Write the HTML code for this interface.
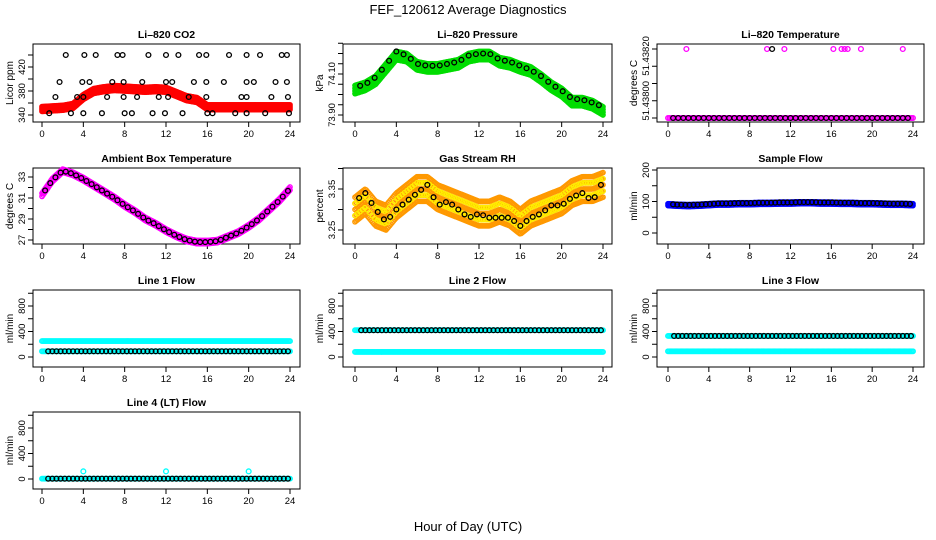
<!DOCTYPE html>
<html><head><meta charset="utf-8"><style>
body{margin:0;background:#fff}
svg{display:block;font-family:"Liberation Sans",sans-serif}
</style></head><body>
<svg id="c" width="936" height="540" xmlns="http://www.w3.org/2000/svg">
<text x="468" y="14" text-anchor="middle" font-size="13">FEF_120612  Average Diagnostics</text>
<text x="468" y="531" text-anchor="middle" font-size="13">Hour of Day (UTC)</text>
</svg>
<script>
// ---- data ----
const hours = [0,1,2,3,4,5,6,7,8,9,10,11,12,13,14,15,16,17,18,19,20,21,22,23,24];
const co2Red = [350,351,352,355,370,380,383,385,384,383,382,383,382,375,368,365,353,353,353,353,353,353,353,353,353];
const co2BlackHours = [2.3,4.1,5.2,7.3,7.8,10.3,12.0,13.2,15.2,15.9,18.1,19.8,21.1,23.2,23.7,1.7,3.9,4.6,6.8,7.9,9.7,12.0,12.6,14.7,15.9,17.6,19.8,20.5,22.6,23.7,1.3,3.4,4.0,6.3,7.9,9.2,11.3,12.2,14.2,15.9,19.3,19.8,22.2,23.8,0.7,2.8,4.0,5.8,8.0,8.7,10.7,11.9,13.6,16.0,16.5,18.7,19.8,21.6,23.9];
const co2BlackVals = [440,440,440,440,440,440,440,440,440,440,440,440,440,440,440,395,395,395,395,395,395,395,395,395,395,395,395,395,395,395,370,370,370,370,370,370,370,370,370,370,370,370,370,370,343,343,343,343,343,343,343,343,343,343,343,343,343,343,343];
const pressGreen = [74.024,74.04,74.07,74.13,74.19,74.18,74.14,74.13,74.13,74.14,74.15,74.18,74.19,74.19,74.16,74.15,74.13,74.115,74.08,74.04,74.01,73.965,73.965,73.95,73.92];
const pressBlack = [74.035,74.05,74.085,74.145,74.21,74.19,74.15,74.14,74.14,74.15,74.16,74.19,74.2,74.2,74.17,74.16,74.14,74.12,74.09,74.05,74.02,73.98,73.975,73.96,73.94];
const tempTopHours = [1.8,9.7,11.4,16.2,17.0,17.3,17.6,18.9,23.0];
const tempBase = 51.438;
const tempTop = 51.4382;
const ambTemp = [31.3,32.7,33.6,33.3,32.8,32.2,31.6,31.0,30.3,29.7,29.0,28.5,27.9,27.4,27.0,26.8,26.8,26.9,27.3,27.7,28.3,29.0,29.9,30.8,31.9];
const rhOrange = [3.30,3.32,3.29,3.28,3.31,3.33,3.35,3.35,3.33,3.32,3.31,3.30,3.29,3.29,3.30,3.29,3.27,3.29,3.30,3.31,3.32,3.34,3.35,3.35,3.36];
const rhBlack = [3.32,3.34,3.30,3.27,3.30,3.32,3.34,3.36,3.31,3.32,3.30,3.28,3.29,3.28,3.28,3.28,3.26,3.28,3.29,3.31,3.31,3.33,3.34,3.32,3.37];
const sampleBlue = [90,88,87,88,90,92,92,93,93,94,94,95,95,96,96,95,95,94,94,93,93,92,91,91,90];
const line1Hi = 250, line1Lo = 90, line1Black = 90;
const line2Hi = 420, line2Lo = 80, line2Black = 420;
const line3Hi = 330, line3Lo = 90, line3Black = 330;
const line4Base = 5, line4SpikeHours = [4,12,20], line4Spike = 120;

// ---- helpers ----
const svg = document.getElementById('c');
const NS = 'http://www.w3.org/2000/svg';
function mk(tag, at, parent){const e=document.createElementNS(NS,tag);for(const k in at)e.setAttribute(k,at[k]);(parent||svg).appendChild(e);return e;}
const cols=[{b0:33,b1:300,p0:42,p1:290},{b0:343,b1:612,p0:355,p1:603},{b0:657,b1:924,p0:668,p1:913}];
const rows=[{t:44,b:122},{t:168,b:244},{t:290,b:367},{t:412,b:489}];
function panel(name,title,ylab,c,r,v1,py1,v2,py2,ticks,labels,fmt){
  const col=cols[c],row=rows[r];
  const g=mk('g',{});
  
  
  const X=h=>col.p0+(col.p1-col.p0)*h/24;
  const Y=v=>py1+(v-v1)*(py2-py1)/(v2-v1);
  const bx=mk('rect',{x:col.b0,y:row.t,width:col.b1-col.b0,height:row.b-row.t,fill:'none',stroke:'#000','stroke-width':1},g);
  
  
  const tt=mk('text',{x:(col.b0+col.b1)/2,y:row.t-6,'text-anchor':'middle','font-size':10.5,'font-weight':'bold'},g);
  tt.textContent=title;
  
  
  const yl=mk('text',{transform:`translate(${col.b0-20},${(row.t+row.b)/2}) rotate(-90)`,'text-anchor':'middle','font-size':10},g);
  yl.textContent=ylab;
  
  
  mk('line',{x1:col.p0,x2:col.p1,y1:row.b,y2:row.b,stroke:'#000'},g);
  [0,4,8,12,16,20,24].forEach(h=>{
    mk('line',{x1:X(h),x2:X(h),y1:row.b,y2:row.b+5,stroke:'#000'},g);
    const t=mk('text',{x:X(h),y:row.b+15,'text-anchor':'middle','font-size':9.5},g);
    t.textContent=h;
    
    
  });
  ticks.forEach(v=>{const y=Y(v);if(y<row.t-1||y>row.b+1)return;mk('line',{x1:col.b0-5,x2:col.b0,y1:y,y2:y,stroke:'#000'},g);});
  labels.forEach(v=>{
    const t=mk('text',{transform:`translate(${col.b0-8},${Y(v)}) rotate(-90)`,'text-anchor':'middle','font-size':9.5},g);
    t.textContent=fmt?fmt(v):v;
    
    
  });
  return {g,X,Y};
}
function pt(p,h,v,color,r){const e=mk('circle',{cx:p.X(h),cy:p.Y(v),r:r||2.4,fill:'none',stroke:color,'stroke-width':1.3},p.g);
  
  return e;}
function interp(arr,h){const i=Math.min(23,Math.floor(h));const f=h-i;return arr[i]*(1-f)+arr[i+1]*f;}
function band(p,arr,hw,color,step,nrow){
  for(let h=0;h<=24.001;h+=step){const c=interp(arr,h);
    for(let k=0;k<nrow;k++){const v=c-hw+2*hw*k/Math.max(1,nrow-1);pt(p,h,v,color,2.2);}}
}
function flat(p,val,color,step){for(let h=0;h<=24.001;h+=step)pt(p,h,val,color,2.3);}

// CO2
let p=panel('co2-panel','Li\u2013820 CO2','Licor ppm',0,0,340,115,420,67,[340,360,380,400,420,440],[340,380,420]);
band(p,co2Red,4,'#ff0000',0.1,4);
co2BlackHours.forEach((h,i)=>pt(p,h,co2BlackVals[i],'#000'));
// Pressure
p=panel('pressure-panel','Li\u2013820 Pressure','kPa',1,0,73.90,115,74.10,74,[73.9,73.95,74.0,74.05,74.1,74.15,74.2,74.25],[73.9,74.1],v=>v.toFixed(2));
band(p,pressGreen,0.02,'#00dd00',0.1,4);
for(let h=0.5;h<24;h+=0.7)pt(p,h,interp(pressBlack,h),'#000');
// Li-820 temp
p=panel('li820-temp-panel','Li\u2013820 Temperature','degrees C',2,0,51.438,118,51.4382,49,[51.438,51.43805,51.4381,51.43815,51.4382],[51.43805,51.43818],v=>v<51.4381?'51.43800':'51.43820');
flat(p,tempBase,'#ff00ff',0.15);
for(let h=0.5;h<24;h+=0.5)pt(p,h,tempBase,'#000');
tempTopHours.forEach(h=>pt(p,h,tempTop,'#ff00ff'));
pt(p,10.2,tempTop,'#000');
// Ambient
p=panel('ambient-temp-panel','Ambient Box Temperature','degrees C',0,1,27,240,33,177,[27,28,29,30,31,32,33],[27,29,31,33]);
band(p,ambTemp,0.15,'#ff00ff',0.1,2);
for(let h=0.3;h<24;h+=0.5)pt(p,h,interp(ambTemp,h),'#000');
// RH
p=panel('rh-panel','Gas Stream RH','percent',1,1,3.25,230,3.35,189,[3.2,3.25,3.3,3.35,3.4],[3.25,3.35],v=>v.toFixed(2));
band(p,rhOrange,0.03,'#ff9900',0.12,5);
band(p,rhOrange,0.015,'#ffee00',0.24,2);
for(let h=0.4;h<24;h+=0.6)pt(p,h,interp(rhBlack,h),'#000');
// Sample flow
p=panel('sample-flow-panel','Sample Flow','ml/min',2,1,0,233,200,170,[0,50,100,150,200],[0,100,200]);
band(p,sampleBlue,3,'#0000ff',0.1,2);
for(let h=0.5;h<24;h+=0.4)pt(p,h,interp(sampleBlue,h)+2,'#000');
// Line flows
const fl=[0,200,400,600,800,1000];
p=panel('line1-flow-panel','Line 1 Flow','ml/min',0,2,0,357,800,306,fl,[0,400,800]);
flat(p,line1Hi,'#00ffff',0.12);flat(p,line1Lo,'#00ffff',0.12);
for(let h=0.6;h<24;h+=0.4)pt(p,h,line1Black,'#000');
p=panel('line2-flow-panel','Line 2 Flow','ml/min',1,2,0,357,800,306,fl,[0,400,800]);
flat(p,line2Hi,'#00ffff',0.12);flat(p,line2Lo,'#00ffff',0.12);
for(let h=0.6;h<24;h+=0.4)pt(p,h,line2Black,'#000');
p=panel('line3-flow-panel','Line 3 Flow','ml/min',2,2,0,357,800,306,fl,[0,400,800]);
flat(p,line3Hi,'#00ffff',0.12);flat(p,line3Lo,'#00ffff',0.12);
for(let h=0.6;h<24;h+=0.4)pt(p,h,line3Black,'#000');
p=panel('line4-flow-panel','Line 4 (LT) Flow','ml/min',0,3,0,479,800,428,fl,[0,400,800]);
flat(p,line4Base,'#00ffff',0.12);
line4SpikeHours.forEach(h=>pt(p,h,line4Spike,'#00ffff'));
for(let h=0.6;h<24;h+=0.4)pt(p,h,line4Base,'#000');
</script>
</body></html>
